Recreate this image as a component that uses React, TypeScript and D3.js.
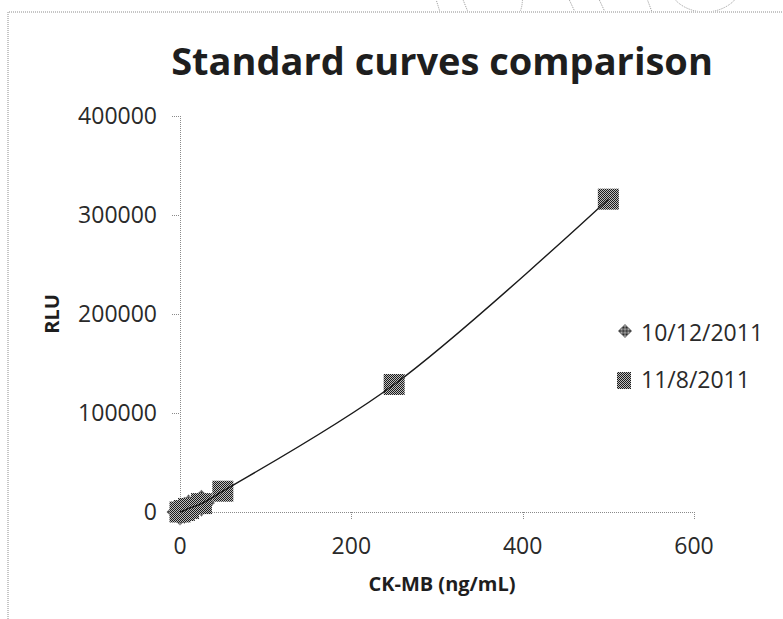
import * as d3 from 'd3'

const TITLE = 'Standard curves comparison'
const X_LABEL = 'CK-MB (ng/mL)'
const Y_LABEL = 'RLU'
const X_TICKS = [0, 200, 400, 600]
const Y_TICKS = [0, 100000, 200000, 300000, 400000]

const SERIES_NAMES = ['10/12/2011', '11/8/2011']
// 10/12/2011 (diamonds) – mostly hidden under the squares near the origin
const OCT_X = [0, 5, 10, 25]
const OCT_Y = [0, 1800, 4200, 9000]
// 11/8/2011 (squares)
const NOV_X = [0, 5, 10, 25, 50, 250, 500]
const NOV_Y = [0, 1500, 3600, 8500, 21000, 128800, 316000]

const W = 783
const H = 619

export default function App() {
  const margin = { left: 180, right: W - 694, top: 116, bottom: H - 512 }
  const x = d3.scaleLinear().domain([0, 600]).range([margin.left, W - margin.right])
  const y = d3.scaleLinear().domain([0, 400000]).range([H - margin.bottom, margin.top])

  const oct = OCT_X.map((v, i) => ({ x: v, y: OCT_Y[i] }))
  const nov = NOV_X.map((v, i) => ({ x: v, y: NOV_Y[i] }))

  // smooth trend through the 11/8 points
  const trend = d3.line<{ x: number; y: number }>()
    .x(d => x(d.x)).y(d => y(d.y))
    .curve(d3.curveCatmullRom.alpha(0.5))(nov) || ''

  const diamond = (s: number) => d3.symbol(d3.symbolSquare, s * s)() || ''
  const axisCol = '#8a8a8a'
  const font = '"Open Sans", sans-serif'

  const x0 = x(0), xEnd = x(600), y0 = y(0), yTop = y(400000)

  return (
    <svg width={W} height={H} style={{ position: 'absolute', left: 0, top: 0, background: '#fff' }}>
      <defs>
        <pattern id="dith" width="2" height="2" patternUnits="userSpaceOnUse">
          <rect width="2" height="2" fill="#bdbdbd" />
          <rect width="1" height="1" fill="#1a1a1a" />
          <rect x="1" y="1" width="1" height="1" fill="#1a1a1a" />
        </pattern>
        <clipPath id="topClip"><rect x="0" y="0" width={W} height="11" /></clipPath>
      </defs>

      {/* bits of the drawing above the chart frame */}
      <g clipPath="url(#topClip)" fill="none" stroke="#9a9a9a" strokeWidth="1" strokeDasharray="1,1">
        <path d="M430,-20 L440,12" />
        <path d="M455,-20 L468,12" />
        <path d="M560,-20 L575,12" />
        <path d="M590,-20 L605,12" />
        <path d="M640,-20 L652,12" />
        <ellipse cx="705" cy="-20" rx="38" ry="32" />
        <path d="M520,-20 Q525,0 520,12" />
      </g>

      {/* chart frame */}
      <path d={`M8,${H} L8,12 L${W},12`} fill="none" stroke="#8c8c8c" strokeWidth="1" strokeDasharray="1,1" />

      <text x={442} y={75} textAnchor="middle" fontFamily={font} fontWeight="bold" fontSize="38" fill="#1e1e1e">
        {TITLE}
      </text>

      {/* axes */}
      <g stroke={axisCol} strokeWidth="1" strokeDasharray="1,1" fill="none">
        <line x1={x0 + 0.5} x2={x0 + 0.5} y1={yTop} y2={y0} />
        <line x1={x0} x2={xEnd} y1={y0 + 0.5} y2={y0 + 0.5} />
        {Y_TICKS.map(t => (
          <line key={'yt' + t} x1={x0 - 8} x2={x0} y1={Math.round(y(t)) + 0.5} y2={Math.round(y(t)) + 0.5} />
        ))}
        {X_TICKS.map(t => (
          <line key={'xt' + t} x1={Math.round(x(t)) + 0.5} x2={Math.round(x(t)) + 0.5} y1={y0} y2={y0 + 8} />
        ))}
      </g>

      <g fontFamily={font} fontSize="23" fill="#2a2a2a">
        {Y_TICKS.map(t => (
          <text key={'yl' + t} x={x0 - 23} y={y(t)} dy="0.35em" textAnchor="end">{t}</text>
        ))}
        {X_TICKS.map(t => (
          <text key={'xl' + t} x={x(t)} y={554} textAnchor="middle">{t}</text>
        ))}
      </g>

      <text x={442} y={591} textAnchor="middle" fontFamily={font} fontWeight="bold" fontSize="20" fill="#1e1e1e">
        {X_LABEL}
      </text>
      <text transform={`translate(59,${(yTop + y0) / 2}) rotate(-90)`} textAnchor="middle"
        fontFamily={font} fontWeight="bold" fontSize="20" fill="#1e1e1e">
        {Y_LABEL}
      </text>

      {/* markers */}
      {oct.map((d, i) => (
        <path key={'o' + i} d={diamond(19)} transform={`translate(${x(d.x)},${y(d.y)}) rotate(45)`} fill="url(#dith)" />
      ))}
      {nov.map((d, i) => (
        <rect key={'n' + i} x={x(d.x) - 10.5} y={y(d.y) - 10.5} width={21} height={21} fill="url(#dith)" />
      ))}

      <path d={trend} fill="none" stroke="#1a1a1a" strokeWidth="1.4" />

      {/* legend */}
      <path d={diamond(10)} transform="translate(625,331) rotate(45)" fill="url(#dith)" />
      <rect x={617} y={372} width={14} height={17} fill="url(#dith)" />
      <g fontFamily={font} fontSize="23" fill="#2a2a2a">
        <text x={641} y={341}>{SERIES_NAMES[0]}</text>
        <text x={641} y={388}>{SERIES_NAMES[1]}</text>
      </g>
    </svg>
  )
}
